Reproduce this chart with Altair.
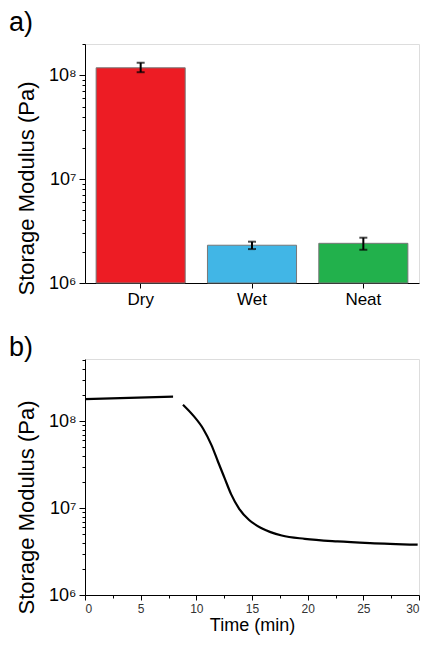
import altair as alt
import pandas as pd

# ---- panel a data ----
categories = ["Dry", "Wet", "Neat"]
modulus = [1.18e8, 2.31e6, 2.41e6]
err_low = [1.07e8, 2.12e6, 2.09e6]
err_high = [1.32e8, 2.50e6, 2.73e6]
bar_colors = ["#ED1C24", "#41B6E6", "#22B14C"]

# ---- panel b data ----
time_hold = [0.0, 7.91]
mod_hold = [1.80e8, 1.92e8]
time_drop = [8.80, 9.73, 10.61, 11.36, 11.94, 12.53, 13.12, 13.85, 14.74, 15.91,
             17.67, 19.74, 22.68, 25.62, 29.88]
mod_drop = [1.55e8, 1.16e8, 8.20e7, 5.31e7, 3.44e7, 2.23e7, 1.45e7, 9.82e6, 7.30e6, 5.83e6,
            4.84e6, 4.43e6, 4.14e6, 3.96e6, 3.79e6]

# axis tick values
y_ticks_a = [m * 10 ** e for e in (6, 7) for m in range(1, 10)] + [1e8, 2e8]
y_ticks_b = [m * 10 ** e for e in (6, 7) for m in range(1, 10)] + [m * 1e8 for m in range(1, 6)]
x_ticks_b = [i * 2.5 for i in range(13)]

FONT = "Liberation Sans"

df_a = pd.DataFrame({"cat": categories, "mod": modulus, "lo": err_low, "hi": err_high})
df_b = pd.concat([
    pd.DataFrame({"t": time_hold, "G": mod_hold, "seg": "hold"}),
    pd.DataFrame({"t": time_drop, "G": mod_drop, "seg": "drop"}),
], ignore_index=True)

lg = "log(datum.value)/LN10"
is_major = f"abs({lg} - round({lg})) < 0.001"
y_label_expr = (f"{is_major} ? (round({lg}) == 6 ? '10⁶' : round({lg}) == 7 ? '10⁷' : "
                f"round({lg}) == 8 ? '10⁸' : '') : ''")


def y_axis(values, title_y):
    return alt.Axis(
        values=values, labelExpr=y_label_expr, labelOverlap=False,
        tickSize=alt.condition(is_major, alt.value(6), alt.value(3)),
        title="Storage Modulus (Pa)", titleFontSize=22, titleFontWeight="normal",
        titleY=title_y, titlePadding=10, labelFontSize=18, labelPadding=3,
        grid=False, domainColor="black", tickColor="black", labelColor="black",
        titleColor="black", labelFont=FONT, titleFont=FONT,
    )


W = 334
# ---- panel a ----
base_a = alt.Chart(df_a)
x_a = alt.X("cat:N", sort=categories,
            scale=alt.Scale(paddingInner=0.2, paddingOuter=0.1),
            axis=alt.Axis(title=None, labelAngle=0, labelFontSize=17, labelColor="black",
                          domainColor="black", tickColor="black", tickSize=5,
                          labelPadding=3, labelFont=FONT))
y_scale_a = alt.Scale(type="log", domain=[1e6, 2e8], nice=False)

bars = base_a.mark_bar(stroke="#777777", strokeWidth=1).encode(
    x=x_a,
    y=alt.Y("mod:Q", scale=y_scale_a, axis=y_axis(y_ticks_a, 144)),
    y2=alt.datum(1e6),
    color=alt.Color("cat:N", scale=alt.Scale(domain=categories, range=bar_colors), legend=None),
)
err_rule = base_a.mark_rule(color="black", strokeWidth=2).encode(
    x=alt.X("cat:N", sort=categories), y="lo:Q", y2="hi:Q")
cap_lo = base_a.mark_tick(color="black", size=8, thickness=2).encode(
    x=alt.X("cat:N", sort=categories), y="lo:Q")
cap_hi = base_a.mark_tick(color="black", size=8, thickness=2).encode(
    x=alt.X("cat:N", sort=categories), y="hi:Q")

panel_a = alt.layer(bars, err_rule, cap_lo, cap_hi).properties(
    width=W, height=239,
    title=alt.TitleParams("a)", anchor="start", frame="group", dx=-76, fontSize=27,
                          fontWeight="normal", font=FONT, color="black", offset=-2),
)

# ---- panel b ----
panel_b = alt.Chart(df_b).mark_line(color="black", strokeWidth=2.2, interpolate="monotone").encode(
    x=alt.X("t:Q", scale=alt.Scale(domain=[0, 30], nice=False),
            axis=alt.Axis(values=x_ticks_b, labelExpr="datum.value % 5 == 0 ? datum.label : ''",
                          labelOverlap=False,
                          tickSize=alt.condition("datum.value % 5 == 0", alt.value(5), alt.value(3)),
                          title="Time (min)", titleFontSize=18, titleFontWeight="normal",
                          titleColor="black", labelFontSize=12, labelColor="#333333",
                          domainColor="black", tickColor="black", grid=False, labelPadding=3,
                          titlePadding=2, labelFont=FONT, titleFont=FONT)),
    y=alt.Y("G:Q", scale=alt.Scale(type="log", domain=[1e6, 5.2e8], nice=False),
            axis=y_axis(y_ticks_b, 148)),
    detail="seg:N",
).properties(
    width=W, height=236,
    title=alt.TitleParams("b)", anchor="start", frame="group", dx=-76, fontSize=27,
                          fontWeight="normal", font=FONT, color="black", offset=-11),
)

chart = alt.vconcat(panel_a, panel_b, spacing=25).configure_view(stroke=None).configure(
    font=FONT, padding=0
)

chart.save("out.html", embed_options={"renderer": "svg", "actions": False})
